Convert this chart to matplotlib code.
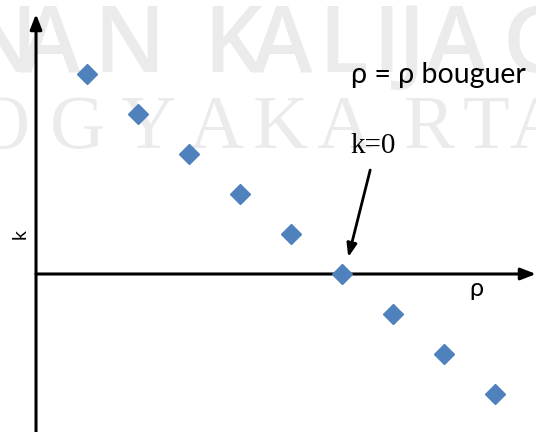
import matplotlib
matplotlib.use("Agg")
import matplotlib.pyplot as plt

rho = [1, 2, 3, 4, 5, 6, 7, 8, 9]
k = [5, 4, 3, 2, 1, 0, -1, -2, -3]

label_top = "ρ = ρ bouguer"
label_k0 = "k=0"
x_label = "ρ"
y_label = "k"

wm_row1 = list("NANKALIJAG")
wm_row2 = list("OGYAKARTA")

W, H = 536, 432
fig = plt.figure(figsize=(W / 100, H / 100), dpi=100)
ax = fig.add_axes([0, 0, 1, 1])
ax.set_xlim(-0.706, 9.80)
ax.set_ylim(-3.95, 6.85)
ax.axis("off")

# watermark (placed in axes-fraction coordinates; the axes fills the figure)
wm = "#ebebeb"
row1_left = [-35, 20, 93, 203, 252, 318, 372, 398, 426, 503]
row2_left = [-25, 50, 120, 188, 253, 316, 404, 463, 509]
for ch, xl in zip(wm_row1, row1_left):
    ax.text(xl / W, 1 - 72 / H, ch, fontsize=66, family="Open Sans",
            fontweight="semibold", color=wm, va="baseline", ha="left",
            transform=ax.transAxes, zorder=0, clip_on=False)
for ch, xl in zip(wm_row2, row2_left):
    ax.text(xl / W, 1 - 148 / H, ch, fontsize=55, family="Liberation Serif",
            color=wm, va="baseline", ha="left",
            transform=ax.transAxes, zorder=0, clip_on=False)

# axes arrows
ax.annotate("", xy=(0, 6.5), xytext=(0, -3.95),
            arrowprops=dict(arrowstyle="-|>,head_length=0.9,head_width=0.35",
                            lw=2.2, color="black", shrinkA=0, shrinkB=0),
            zorder=2)
ax.annotate("", xy=(9.80, 0), xytext=(0, 0),
            arrowprops=dict(arrowstyle="-|>,head_length=0.9,head_width=0.35",
                            lw=2.2, color="black", shrinkA=0, shrinkB=0),
            zorder=2)

ax.plot(rho, k, linestyle="none", marker="D", markersize=10,
        color="#4F81BD", markeredgecolor="#4F81BD", zorder=3)

# callout arrow
ax.annotate("", xy=(6.12, 0.42), xytext=(6.55, 2.6),
            arrowprops=dict(arrowstyle="-|>,head_length=0.8,head_width=0.3",
                            lw=2.0, color="black", shrinkA=0, shrinkB=0),
            zorder=2)

ax.text(6.17, 4.78, label_top, fontsize=20.5, family="Lato",
        va="baseline", ha="left", zorder=4)
ax.text(6.17, 3.03, label_k0, fontsize=21, family="Liberation Serif",
        va="baseline", ha="left", zorder=4)
ax.text(8.49, -0.55, x_label, fontsize=18, family="Lato",
        va="baseline", ha="left", zorder=4)
ax.text(-0.31, 1.0, y_label, fontsize=14, family="Lato",
        rotation=90, va="center", ha="center", zorder=4)

fig.savefig("out.png", dpi=100)
